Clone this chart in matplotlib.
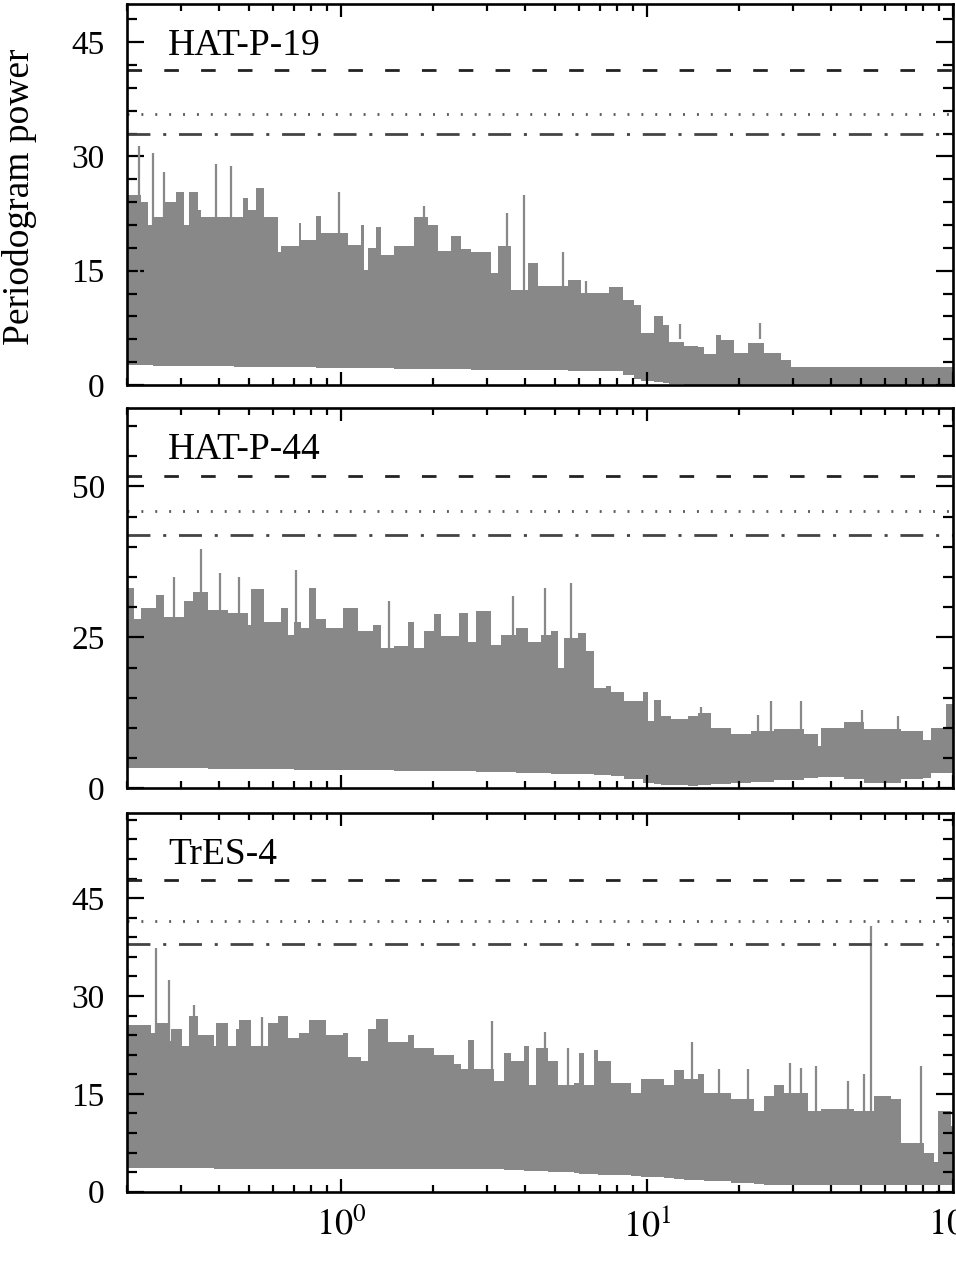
import numpy as np
import matplotlib
matplotlib.use('Agg')
import matplotlib.pyplot as plt
from matplotlib.ticker import LogLocator, MultipleLocator, NullFormatter, FixedLocator, FixedFormatter

plt.rcParams['font.family'] = ['Liberation Serif', 'DejaVu Serif']
plt.rcParams['mathtext.fontset'] = 'stix'
plt.rcParams['lines.scale_dashes'] = False

# ---- data (period in days, periodogram power) ----
names = ['HAT-P-19', 'HAT-P-44', 'TrES-4']

# HAT-P-19
hat19_per = [0.200, 0.2221, 0.2335, 0.2424, 0.2646, 0.2714, 0.2889, 0.3076, 0.3193, 0.3400,
             0.3486, 0.4481, 0.4771, 0.4955, 0.5276, 0.5617, 0.6209, 0.6366, 0.7308, 0.7401,
             0.8285, 0.8602, 1.0515, 1.1626, 1.1920, 1.2222, 1.3013, 1.3511, 1.4936, 1.7365,
             1.9196, 2.0698, 2.2881, 2.4667, 2.659, 3.092, 3.251, 3.594, 4.074, 4.392,
             5.506, 6.085, 7.531, 8.326, 9.092, 9.559, 10.57, 11.25, 11.83, 13.24,
             14.64, 15.39, 16.81, 17.45, 19.29, 21.33, 24.18, 27.41, 29.55, 100]
hat19_up = [25, 24, 21, 22, 24, 24, 25.3, 21, 25.3, 23,
            22, 22, 24.6, 23, 25.9, 22, 17.4, 18.2, 21.3, 19,
            22.2, 20, 18.4, 21, 15.1, 18, 20.7, 17, 18.2, 22,
            21, 17.6, 19.6, 17.8, 17.4, 14.7, 18.2, 12.5, 16, 13,
            13.8, 12.1, 12.9, 11.2, 10.5, 6.8, 9, 7.9, 5.7, 5.1,
            5, 4.1, 6.6, 5.9, 4.2, 5.5, 4.2, 3.3, 2.4, 2.4]
hat19_low_per = [0.2, 7.6, 9.5, 12.6, 100]
hat19_low = [2.6, 1.8, 0.6, 0, 0]
hat19_spk_per = [0.2193, 0.2424, 0.2646, 0.3903, 0.4370, 0.9876, 1.8720, 3.488, 3.973, 5.303, 6.318, 12.85, 23.46]
hat19_spk = [31.4, 30.5, 27.9, 29, 28.8, 25.3, 23.5, 22.6, 25, 17.4, 13.6, 8, 8.1]
hat19_lev = [41.4, 35.6, 33.0]

# HAT-P-44
hat44_per = [0.200, 0.2112, 0.2221, 0.2485, 0.2646, 0.3076, 0.3274, 0.3666, 0.4262, 0.4955,
             0.5081, 0.5617, 0.6366, 0.6694, 0.7038, 0.7401, 0.7880, 0.8285, 0.8934, 1.0126,
             1.1337, 1.2690, 1.3511, 1.4936, 1.6515, 1.7365, 1.8720, 2.0184, 2.1224, 2.4360,
             2.5938, 2.762, 3.092, 3.334, 3.732, 4.074, 4.504, 4.856, 5.107, 5.369,
             5.936, 6.318, 6.728, 7.346, 7.625, 8.432, 9.679, 10.05, 10.57, 11.11,
             11.98, 13.58, 14.64, 16.19, 18.81, 21.87, 26.07, 32.68, 36.13, 37.05,
             44.16, 51.32, 67.62, 79.59, 84.75, 94.87, 100]
hat44_up = [33.2, 28, 29.9, 32.1, 28.3, 31, 32.6, 29.6, 29, 27.1,
            33, 27.6, 29.9, 25.4, 27.6, 26.6, 33.2, 28, 26.6, 29.9,
            26, 27, 23.2, 23.5, 27.6, 23.2, 26, 28.8, 25.3, 29,
            24.3, 29.3, 23.8, 25.4, 26.6, 24.3, 25.4, 26, 19.9, 24.9,
            25.7, 22.7, 16.6, 17, 16, 14.4, 15.9, 11.1, 14.6, 12,
            11.5, 12, 12.5, 10, 9, 9.5, 9.8, 9, 7, 10,
            11, 9.8, 9.5, 8, 10, 14, 14]
hat44_low_per = [0.2, 2.66, 7.5, 9.3, 13, 40, 55, 60, 75, 85, 100]
hat44_low = [3.4, 2.8, 2.2, 1.0, 0.3, 2.0, 0.5, 2.2, 1.0, 2.5, 2.5]
hat44_spk_per = [0.2839, 0.3486, 0.4032, 0.4653, 0.7127, 1.4312, 3.658, 4.642, 5.645, 15.0, 22.99, 25.42, 31.87, 50.29, 65.95]
hat44_spk = [35, 39.7, 35.7, 35, 36.2, 31, 31.8, 33.2, 34, 13.4, 12.2, 14.4, 14.4, 13, 11.9]
hat44_lev = [51.7, 46.0, 42.0]

# TrES-4
tres_per = [0.200, 0.2397, 0.2514, 0.2714, 0.2775, 0.3035, 0.3193, 0.3400, 0.3855, 0.3903,
            0.4262, 0.4537, 0.4653, 0.5081, 0.5759, 0.6209, 0.6694, 0.7308, 0.7880, 0.8934,
            1.0126, 1.0515, 1.1626, 1.2222, 1.3013, 1.4205, 1.6515, 1.7365, 2.0184, 2.3463,
            2.4667, 2.5938, 2.7274, 3.175, 3.419, 3.594, 3.973, 4.125, 4.338, 4.760,
            5.107, 5.789, 6.010, 6.240, 6.728, 6.900, 7.625, 8.866, 9.559, 11.39,
            12.28, 13.24, 14.64, 15.39, 18.81, 22.43, 24.18, 26.07, 28.11, 30.69,
            33.51, 37.05, 47.61, 55.33, 62.72, 67.62, 80.59, 86.90, 89.11, 98.50, 100]
tres_up = [25.5, 24.3, 25.9, 23.1, 25, 22.3, 26.9, 24, 22.3, 25.8,
           22.3, 25, 26.3, 22.3, 25.8, 26.9, 23.6, 24.3, 26.3, 24,
           24.3, 20.7, 20, 25, 26.5, 23, 24, 22, 21, 19.5,
           18.8, 23.3, 18.8, 17, 21.2, 20, 22.3, 16.3, 22, 20,
           16.3, 16.7, 21.2, 16.3, 21.7, 20, 16.7, 15.2, 17.2, 16.3,
           18.6, 17.2, 18, 15.2, 14.2, 12.3, 14.7, 16.3, 15.2, 15.2,
           12.3, 12.7, 12.3, 14.7, 14.2, 7.4, 6, 4.6, 12.3, 10, 10]
tres_low_per = [0.2, 3.3, 9.5, 25, 100]
tres_low = [3.6, 3.4, 2.3, 1.0, 1.0]
tres_spk_per = [0.2485, 0.2734, 0.330, 0.5519, 3.125, 4.642, 5.506, 14.00, 17.23, 21.33, 29.33, 31.87, 35.67, 45.28, 51.32, 53.96, 78.60]
tres_spk = [37.3, 32.4, 28.6, 26.8, 26.2, 24.5, 22, 23, 18.8, 18.8, 19.7, 19, 19.3, 17, 18, 40.8, 19.3]
tres_lev = [47.7, 41.5, 37.9]

panels = [
    (hat19_per, hat19_up, hat19_low_per, hat19_low, hat19_spk_per, hat19_spk, hat19_lev, 50, 15, 3),
    (hat44_per, hat44_up, hat44_low_per, hat44_low, hat44_spk_per, hat44_spk, hat44_lev, 63, 25, 5),
    (tres_per, tres_up, tres_low_per, tres_low, tres_spk_per, tres_spk, tres_lev, 58, 15, 3),
]

W, H = 956, 1265
fig = plt.figure(figsize=(W/100, H/100), dpi=100)
boxes = [(4, 385), (408, 788.3), (813.3, 1191.7)]
grey = '#888888'

for i, (per, up, lper, low, sper, shgt, lev, ytop, ymaj, ymin) in enumerate(panels):
    top, bot = boxes[i]
    ax = fig.add_axes([127/W, 1-bot/H, (953-127)/W, (bot-top)/H])
    ax.set_xscale('log')
    per = np.array(per); up = np.array(up)
    lo = np.interp(np.log10(per), np.log10(lper), low)
    ax.fill_between(per, lo, up, step='post', color=grey, lw=0)
    ax.vlines(sper, 6, shgt, color=grey, lw=1.6)
    # significance levels
    ax.axhline(lev[0], color='#222222', lw=2.0, dashes=(10.5, 16), dash_capstyle='butt')
    ax.axhline(lev[1], color='#5a5a5a', lw=2.0, dashes=(1.4, 8.6))
    ax.axhline(lev[2], color='#444444', lw=2.0, dashes=(16.5, 9.2, 2.2, 9.2))
    ax.text(0.05, 0.89, names[i], transform=ax.transAxes, fontsize=27, va='center', ha='left')
    ax.set_xlim(0.2, 100)
    ax.set_ylim(0, ytop)
    ax.xaxis.set_major_locator(FixedLocator([1, 10, 100]))
    ax.xaxis.set_minor_locator(LogLocator(base=10, subs=np.arange(2, 10)))
    ax.yaxis.set_major_locator(MultipleLocator(ymaj))
    ax.yaxis.set_minor_locator(MultipleLocator(ymin))
    ax.tick_params(axis='both', which='both', direction='in', top=True, right=True, width=1.6)
    ax.tick_params(axis='y', which='major', length=12, labelsize=24, pad=16)
    ax.tick_params(axis='y', which='minor', length=7)
    ax.tick_params(axis='x', which='major', length=9.5, labelsize=26, pad=12)
    ax.tick_params(axis='x', which='minor', length=5)
    for s in ax.spines.values():
        s.set_linewidth(1.9)
    if i < 2:
        ax.xaxis.set_major_formatter(NullFormatter())
    else:
        ax.xaxis.set_major_formatter(FixedFormatter([r'$10^{0}$', r'$10^{1}$', r'$10^{2}$']))
    ax.xaxis.set_minor_formatter(NullFormatter())

fig.text(20/W, 1-197/H, 'Periodogram power', rotation=90, fontsize=27, va='center', ha='center')

fig.savefig('out.png', dpi=100)
